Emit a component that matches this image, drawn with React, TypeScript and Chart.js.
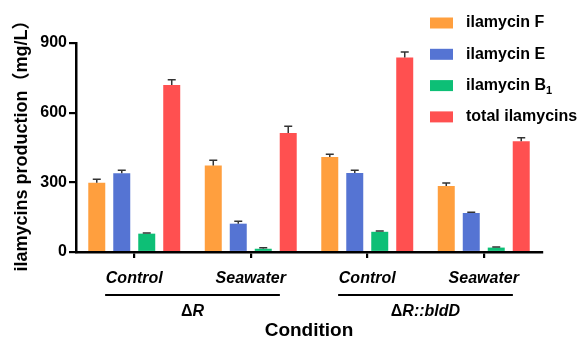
import React, { useEffect, useRef } from "react";
import { Chart, registerables } from "chart.js";

Chart.register(...registerables);

const categories = ["Control", "Seawater", "Control", "Seawater"];
const seriesNames = ["ilamycin F", "ilamycin E", "ilamycin B₁", "total ilamycins"];
const seriesColors = ["#FF9F3E", "#5574D3", "#0DBF76", "#FF5050"];
const ilamycinF = [298, 373, 409, 284];
const ilamycinE = [339, 122, 340, 168];
const ilamycinB1 = [79, 14, 87, 19];
const totalIlamycins = [719, 512, 838, 477];
const errF = [15, 22, 12, 13];
const errE = [13, 10, 12, 3];
const errB1 = [3, 4, 3, 3];
const errTotal = [23, 30, 23, 15];
const yTicks = [0, 300, 600, 900];
const groupLabels = [
  { parts: [{ t: "Δ", italic: false }, { t: "R", italic: true }], from: 0, to: 1 },
  { parts: [{ t: "Δ", italic: false }, { t: "R::bldD", italic: true }], from: 2, to: 3 },
];
const xTitle = "Condition";
const yTitle = "ilamycins production（mg/L）";

const FONT = "'Liberation Sans', Arial, 'Noto Sans CJK SC', sans-serif";

const errorBarPlugin = {
  id: "errorBars",
  afterDatasetsDraw(chart: any) {
    const ctx = chart.ctx;
    const y = chart.scales.y;
    ctx.save();
    ctx.strokeStyle = "#333333";
    ctx.lineWidth = 1.5;
    chart.data.datasets.forEach((ds: any, i: number) => {
      const meta = chart.getDatasetMeta(i);
      meta.data.forEach((el: any, j: number) => {
        const top = y.getPixelForValue(ds.data[j] + ds.errors[j]);
        ctx.beginPath();
        ctx.moveTo(el.x, el.y);
        ctx.lineTo(el.x, top);
        ctx.moveTo(el.x - 4, top);
        ctx.lineTo(el.x + 4, top);
        ctx.stroke();
      });
    });
    ctx.restore();
  },
};

function drawParts(ctx: any, parts: any[], cx: number, cy: number, size: number) {
  const fonts = parts.map((p) => `${p.italic ? "italic " : ""}bold ${size}px ${FONT}`);
  let total = 0;
  const widths = parts.map((p, i) => {
    ctx.font = fonts[i];
    const w = ctx.measureText(p.t).width;
    total += w;
    return w;
  });
  let x = cx - total / 2;
  parts.forEach((p, i) => {
    ctx.font = fonts[i];
    ctx.fillText(p.t, x, cy);
    x += widths[i];
  });
}

const annotationPlugin = {
  id: "annotations",
  afterDraw(chart: any) {
    const ctx = chart.ctx;
    const xs = chart.scales.x;
    const area = chart.chartArea;
    const catW = xs.width / categories.length;
    ctx.save();
    ctx.fillStyle = "#000";
    ctx.strokeStyle = "#000";
    ctx.textBaseline = "middle";
    ctx.textAlign = "left";
    groupLabels.forEach((g) => {
      const x1 = xs.getPixelForValue(g.from) - catW * 0.25;
      const x2 = xs.getPixelForValue(g.to) + catW * 0.25;
      ctx.lineWidth = 2.2;
      ctx.beginPath();
      ctx.moveTo(x1, area.bottom + 43);
      ctx.lineTo(x2, area.bottom + 43);
      ctx.stroke();
      drawParts(ctx, g.parts, (x1 + x2) / 2, area.bottom + 60, 16);
    });
    ctx.textAlign = "center";
    ctx.font = `bold 19px ${FONT}`;
    ctx.fillText(xTitle, (area.left + area.right) / 2, area.bottom + 79);

    // y title
    ctx.save();
    ctx.translate(22, (area.top + area.bottom) / 2 - 6);
    ctx.rotate(-Math.PI / 2);
    ctx.font = `bold 18px ${FONT}`;
    ctx.fillText(yTitle, 0, 0);
    ctx.restore();

    // legend
    const lx = 430;
    const ly = 23;
    const gap = 31.3;
    ctx.textAlign = "left";
    seriesNames.forEach((name, i) => {
      const cy = ly + i * gap;
      ctx.fillStyle = seriesColors[i];
      ctx.fillRect(lx, cy - 5.5, 23, 11);
      ctx.fillStyle = "#000";
      let x = lx + 36;
      for (const ch of Array.from(name)) {
        const code = ch.charCodeAt(0);
        if (code >= 0x2080 && code <= 0x2089) {
          const d = String(code - 0x2080);
          ctx.font = `bold 11px ${FONT}`;
          ctx.fillText(d, x, cy + 5);
          x += ctx.measureText(d).width;
        } else {
          ctx.font = `bold 16px ${FONT}`;
          ctx.fillText(ch, x, cy);
          x += ctx.measureText(ch).width;
        }
      }
    });
    ctx.restore();
  },
};

export default function App() {
  const ref = useRef<HTMLCanvasElement | null>(null);
  useEffect(() => {
    document.body.style.margin = "0";
    if (!ref.current) return;
    const values = [ilamycinF, ilamycinE, ilamycinB1, totalIlamycins];
    const errs = [errF, errE, errB1, errTotal];
    const chart = new Chart(ref.current, {
      type: "bar",
      data: {
        labels: categories,
        datasets: seriesNames.map((n, i) => ({
          label: n,
          data: values[i],
          errors: errs[i],
          backgroundColor: seriesColors[i],
          borderWidth: 0,
          categoryPercentage: 0.858,
          barPercentage: 0.68,
        })) as any,
      },
      options: {
        responsive: false,
        animation: false,
        devicePixelRatio: 1,
        layout: { padding: { top: 43, right: 45, bottom: 0, left: 0 } },
        plugins: { legend: { display: false }, tooltip: { enabled: false } },
        scales: {
          x: {
            afterFit: (s: any) => {
              s.height = 88;
            },
            grid: {
              display: true,
              drawOnChartArea: false,
              drawTicks: true,
              tickLength: 6,
              offset: false,
              color: "#000",
              lineWidth: 2.2,
            },
            border: { display: true, color: "#000", width: 2.5 },
            ticks: {
              color: "#000",
              padding: 11,
              font: { family: FONT, size: 16, weight: "bold", style: "italic" },
            },
          },
          y: {
            min: 0,
            max: 900,
            afterFit: (s: any) => {
              s.width = 76;
            },
            afterBuildTicks: (s: any) => {
              s.ticks = yTicks.map((v) => ({ value: v }));
            },
            grid: {
              display: true,
              drawOnChartArea: false,
              drawTicks: true,
              tickLength: 7,
              color: "#000",
              lineWidth: 2.2,
            },
            border: { display: true, color: "#000", width: 2.5 },
            ticks: {
              color: "#000",
              padding: 2,
              font: { family: FONT, size: 16, weight: "bold" },
            },
            title: { display: false },
          },
        },
      } as any,
      plugins: [errorBarPlugin, annotationPlugin],
    });
    return () => chart.destroy();
  }, []);
  return (
    <div style={{ width: 587, height: 340, background: "#fff" }}>
      <canvas ref={ref} width={587} height={340} style={{ width: 587, height: 340, display: "block" }} />
    </div>
  );
}
